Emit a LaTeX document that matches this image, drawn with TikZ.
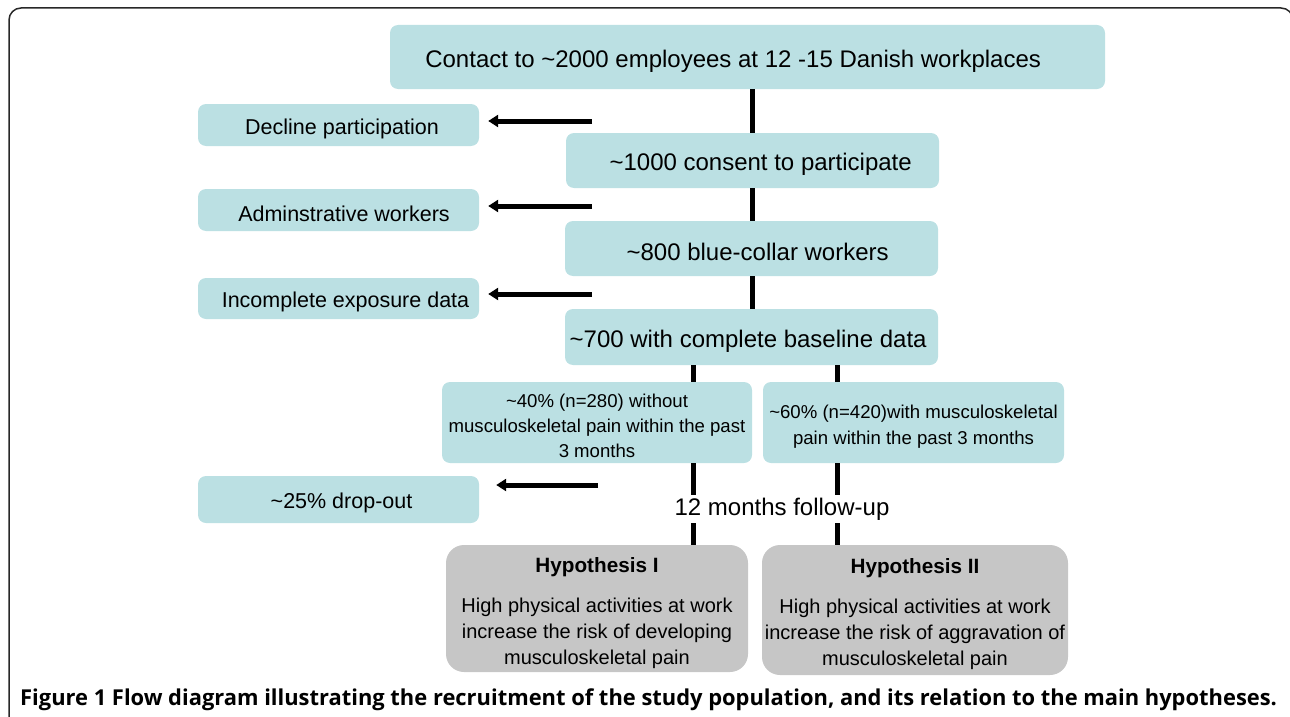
\documentclass[tikz,border=0pt]{standalone}
\usepackage{fontspec}
\setmainfont{Liberation Sans}
\newfontfamily\capfont{Open Sans}
\usetikzlibrary{arrows.meta}

\definecolor{boxteal}{RGB}{187,224,227}
\definecolor{hypgray}{RGB}{198,198,198}
\definecolor{framegray}{RGB}{40,40,40}

\tikzset{
	stage/.style={fill=boxteal, rounded corners=8pt, align=center, inner sep=0pt},
	mainstage/.style={stage, minimum width=373pt, minimum height=55pt, font=\fontsize{24}{28}\selectfont, text height=25pt},
	sidestage/.style={stage, minimum width=281pt, minimum height=42pt, font=\fontsize{21.5}{25}\selectfont, text height=23pt},
	hyp/.style={fill=hypgray, rounded corners=18pt, align=center, inner sep=0pt, font=\fontsize{20}{26}\selectfont},
	link/.style={line width=5pt},
	exclude/.style={line width=5pt, -{Triangle[length=10pt,width=12pt]}, shorten >=9pt},
}

\begin{document}
\begin{tikzpicture}[x=1pt,y=-1pt]
	\useasboundingbox (0,0) rectangle (1290,717);
	\draw[framegray, line width=1.5pt, rounded corners=12pt] (9,8) rectangle (1293,740);

	% main column
	\draw (747.5,57) node[mainstage, minimum width=715pt, minimum height=64pt] (contact)
	{
		\hspace*{-22pt}Contact to \textasciitilde2000 employees at 12 -15 Danish workplaces
	};
	\draw (752.5,160.5) node[mainstage] (consent)
	{
		\hspace*{23pt}\textasciitilde1000 consent to participate
	};
	\draw (751.5,248.5) node[mainstage] (bluecollar)
	{
		\hspace*{19pt}\textasciitilde800 blue-collar workers
	};
	\draw (751.5,337) node[mainstage, minimum height=56pt] (baseline)
	{
		\textasciitilde700 with complete baseline data
	};

	% excluded
	\draw (338.5,125) node[sidestage] (decline)
	{
		\hspace*{13pt}Decline participation
	};
	\draw (338.5,210) node[sidestage] (admin)
	{
		\hspace*{17pt}Adminstrative workers
	};
	\draw (338.5,298.5) node[sidestage, minimum height=41pt] (incomplete)
	{
		\hspace*{20pt}Incomplete exposure data
	};
	\draw (338.5,499.5) node[sidestage, minimum height=47pt] (dropout)
	{
		\hspace*{12pt}\textasciitilde25\% drop-out
	};

	% pain groups
	\draw (597,422.5) node[stage, minimum width=310pt, minimum height=81pt, font=\fontsize{18.6}{25}\selectfont] (nopain)
	{
		\rule{0pt}{21pt}\textasciitilde40\% (n=280) without \\
		musculoskeletal pain within the past \\
		3 months
	};
	\draw (913.5,422.5) node[stage, minimum width=301pt, minimum height=81pt, font=\fontsize{18.6}{26}\selectfont] (pain)
	{
		\rule{0pt}{21pt}\textasciitilde60\% (n=420)with musculoskeletal \\
		pain within the past 3 months
	};

	% hypotheses
	\draw (597,608.5) node[hyp, minimum width=302pt, minimum height=127pt] (hypone)
	{
		\rule{0pt}{24pt}{\fontsize{20.7}{26}\selectfont\textbf{Hypothesis I}} \\[14pt]
		High physical activities at work \\
		increase the risk of developing \\
		musculoskeletal pain
	};
	\draw (915,610) node[hyp, minimum width=306pt, minimum height=130pt] (hyptwo)
	{
		\rule{0pt}{24pt}{\fontsize{20.7}{26}\selectfont\textbf{Hypothesis II}} \\[14pt]
		High physical activities at work \\
		increase the risk of aggravation of \\
		musculoskeletal pain
	};

	\draw[link] (contact.south -| consent) -- (consent.north);
	\draw[link] (consent.south) -- (bluecollar.north -| consent);
	\draw[link] (bluecollar.south -| consent) -- (baseline.north -| consent);
	\draw[link] (baseline.south -| 693,0) -- (nopain.north -| 693,0);
	\draw[link] (baseline.south -| 837,0) -- (pain.north -| 837,0);
	\draw[link] (nopain.south -| 693,0) -- (hypone.north -| 693,0);
	\draw[link] (pain.south -| 837,0) -- (hyptwo.north -| 837,0);

	\draw (782,509) node[fill=white, inner sep=3pt, font=\fontsize{24}{28}\selectfont] (followup)
	{
		12 months follow-up
	};

	\coordinate (fromconsent) at (592,121);
	\coordinate (frombluecollar) at (592,206);
	\coordinate (frombaseline) at (592,294);
	\coordinate (fromnopain) at (598,485);
	\draw[exclude] (fromconsent) -- (decline.east |- fromconsent);
	\draw[exclude] (frombluecollar) -- (admin.east |- frombluecollar);
	\draw[exclude] (frombaseline) -- (incomplete.east |- frombaseline);
	\draw[exclude, shorten >=17pt] (fromnopain) -- (dropout.east |- fromnopain);

	\draw (20,700) node[anchor=west, inner sep=0pt, font=\capfont\bfseries\fontsize{21.9}{25}\selectfont] (caption)
	{
		Figure 1 Flow diagram illustrating the recruitment of the study population, and its relation to the main hypotheses.
	};
\end{tikzpicture}
\end{document}
